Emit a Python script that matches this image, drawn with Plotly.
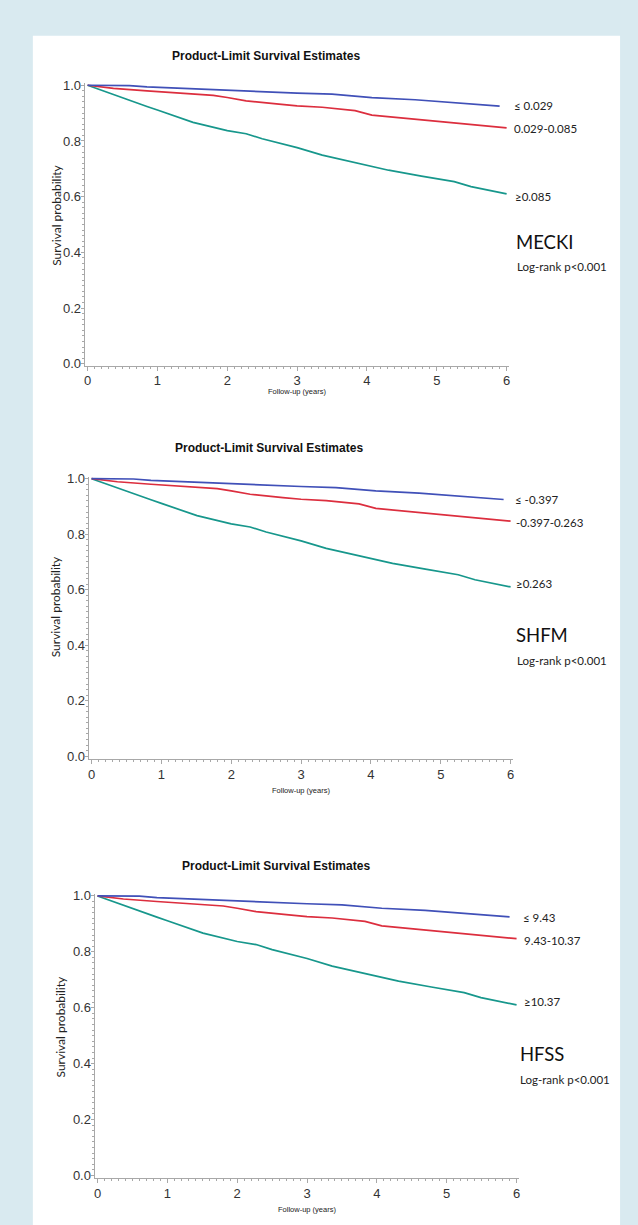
import plotly.graph_objects as go

W, H = 638, 1225

# ---------------- data ----------------
years_low = [0, 0.6, 0.85, 1.3, 1.8, 2.27, 2.65, 3.0, 3.5, 4.07, 4.69, 5.25, 5.63, 5.9]
surv_low = [1.0, 0.999, 0.994, 0.989, 0.983, 0.980, 0.974, 0.972, 0.968, 0.956, 0.948, 0.938, 0.930, 0.925]

years_mid = [0, 0.37, 0.85, 1.32, 1.8, 2.0, 2.27, 2.74, 3.0, 3.36, 3.83, 4.07, 4.31, 4.78, 5.25, 6.0]
surv_mid = [1.0, 0.989, 0.980, 0.972, 0.964, 0.956, 0.944, 0.932, 0.926, 0.921, 0.909, 0.893, 0.887, 0.875, 0.864, 0.847]

years_high = [0, 0.37, 0.61, 0.85, 1.0, 1.32, 1.51, 2.0, 2.27, 2.5, 3.0, 3.36, 3.83, 4.31, 4.78, 5.25, 5.49, 6.0]
surv_high = [1.0, 0.966, 0.944, 0.924, 0.911, 0.885, 0.867, 0.837, 0.826, 0.808, 0.776, 0.749, 0.721, 0.695, 0.674, 0.654, 0.636, 0.610]

model_names = ["MECKI", "SHFM", "HFSS"]
group_labels = [
    ["≤ 0.029", "0.029-0.085", "≥0.085"],
    ["≤ -0.397", "-0.397-0.263", "≥0.263"],
    ["≤ 9.43", "9.43-10.37", "≥10.37"],
]
x_ticks = [0, 1, 2, 3, 4, 5, 6]
y_ticks = [0.0, 0.2, 0.4, 0.6, 0.8, 1.0]
title_text = "Product-Limit Survival Estimates"
ytitle_text = "Survival probability"
xtitle_text = "Follow-up (years)"
pvalue_text = "Log-rank p<0.001"

# ---------------- layout geometry (pixels) ----------------
panels = [
    dict(yline=84, x0=87, x6=508, right=510, y1=81, y0=362, bottom=364,
         title=(170, 51), ytitle=(55, 212), xtitle=(297, 390),
         labels=[(513, 101), (513, 125), (514, 193)], model=(515, 239), pval=(516, 264)),
    dict(yline=88, x0=91, x6=512, right=514, y1=478, y0=758, bottom=761,
         title=(173, 447), ytitle=(55, 607), xtitle=(301, 793),
         labels=[(514, 499), (515, 522), (515, 584)], model=(515, 636), pval=(516, 661)),
    dict(yline=94, x0=97, x6=518, right=520, y1=899, y0=1181, bottom=1184,
         title=(180, 869), ytitle=(60, 1031), xtitle=(307, 1215),
         labels=[(522, 921), (523, 944), (523, 1006)], model=(519, 1059), pval=(519, 1084)),
]

BLUE = "#4050b8"
RED = "#dc2e3e"
TEAL = "#17978c"
AXIS = "#a8a8a8"
TXT = "#222222"

def px(x):
    return x / W

def py(y):
    return 1 - y / H

fig = go.Figure()
annotations = []

for i, p in enumerate(panels):
    n = "" if i == 0 else str(i + 1)
    xs = (p["x6"] - p["x0"]) / 6.0
    ys = (p["y0"] - p["y1"]) / 1.0
    xr = [(p["yline"] - p["x0"]) / xs, (p["right"] - p["x0"]) / xs]
    yr = [(p["y0"] - p["bottom"]) / ys, 1 + 2 / ys]
    top_px = p["y1"] - 2
    xa = dict(domain=[px(p["yline"]), px(p["right"])], range=xr, anchor="y" + n,
              showline=True, linecolor=AXIS, linewidth=1, showgrid=False, zeroline=False,
              tickmode="array", tickvals=x_ticks, ticktext=[str(v) for v in x_ticks],
              ticks="outside", ticklen=4, tickcolor=AXIS, tickwidth=1,
              minor=dict(dtick=0.1, tick0=0, ticks="outside", ticklen=2, tickcolor=AXIS, tickwidth=1, showgrid=False),
              tickfont=dict(family="Liberation Sans, Arial", size=13, color="#333333"),
              ticklabelstandoff=-1,
              fixedrange=True)
    ya = dict(domain=[py(p["bottom"]), py(top_px)], range=yr, anchor="x" + n,
              showline=True, linecolor=AXIS, linewidth=1, showgrid=False, zeroline=False,
              tickmode="array", tickvals=y_ticks, ticktext=["%.1f" % v for v in y_ticks],
              ticks="outside", ticklen=3, tickcolor=AXIS, tickwidth=1,
              minor=dict(dtick=0.02, tick0=0, ticks="outside", ticklen=2, tickcolor=AXIS, tickwidth=1, showgrid=False),
              tickfont=dict(family="Liberation Sans, Arial", size=13, color="#333333"),
              ticklabelstandoff=-3,
              fixedrange=True)
    fig.update_layout(**{"xaxis" + n: xa, "yaxis" + n: ya})

    for xv, yv, col in [(years_high, surv_high, TEAL), (years_mid, surv_mid, RED), (years_low, surv_low, BLUE)]:
        fig.add_trace(go.Scatter(x=xv, y=yv, mode="lines", line=dict(color=col, width=1.7),
                                 xaxis="x" + n, yaxis="y" + n, showlegend=False, hoverinfo="skip"))

    annotations.append(dict(text="<b>" + title_text + "</b>", x=px(p["title"][0]), y=py(p["title"][1]),
                            xref="paper", yref="paper", xanchor="left", yanchor="middle", showarrow=False,
                            font=dict(family="Liberation Sans, Arial", size=12, color="#111111")))
    annotations.append(dict(text=ytitle_text, x=px(p["ytitle"][0]), y=py(p["ytitle"][1]),
                            xref="paper", yref="paper", xanchor="center", yanchor="middle", showarrow=False,
                            textangle=-90, font=dict(family="Lato", size=12, color=TXT)))
    annotations.append(dict(text=xtitle_text, x=px(p["xtitle"][0]), y=py(p["xtitle"][1]),
                            xref="paper", yref="paper", xanchor="center", yanchor="middle", showarrow=False,
                            font=dict(family="Liberation Sans, Arial", size=7.5, color=TXT)))
    for lab, (lx, ly) in zip(group_labels[i], p["labels"]):
        annotations.append(dict(text=lab, x=px(lx), y=py(ly), xref="paper", yref="paper",
                                xanchor="left", yanchor="middle", showarrow=False,
                                font=dict(family="Lato", size=11.5, color=TXT)))
    annotations.append(dict(text=model_names[i], x=px(p["model"][0]), y=py(p["model"][1]),
                            xref="paper", yref="paper", xanchor="left", yanchor="middle", showarrow=False,
                            font=dict(family="Lato", size=18.5, color="#111111")))
    annotations.append(dict(text=pvalue_text, x=px(p["pval"][0]), y=py(p["pval"][1]),
                            xref="paper", yref="paper", xanchor="left", yanchor="middle", showarrow=False,
                            font=dict(family="Lato", size=11.5, color=TXT)))

fig.update_layout(
    width=W, height=H,
    margin=dict(l=0, r=0, t=0, b=0),
    paper_bgcolor="#d9eaf0",
    plot_bgcolor="rgba(0,0,0,0)",
    annotations=annotations,
    shapes=[dict(type="rect", xref="paper", yref="paper", x0=px(32), x1=px(622), y0=-0.02, y1=py(31),
                 fillcolor="white", line=dict(width=0), layer="below")],
)

page_fix = (
    "document.documentElement.style.margin='0px';"
    "document.body.style.margin='0px';document.body.style.overflow='hidden';"
)
fig.write_html("out.html", config={"displayModeBar": False}, post_script=page_fix)
